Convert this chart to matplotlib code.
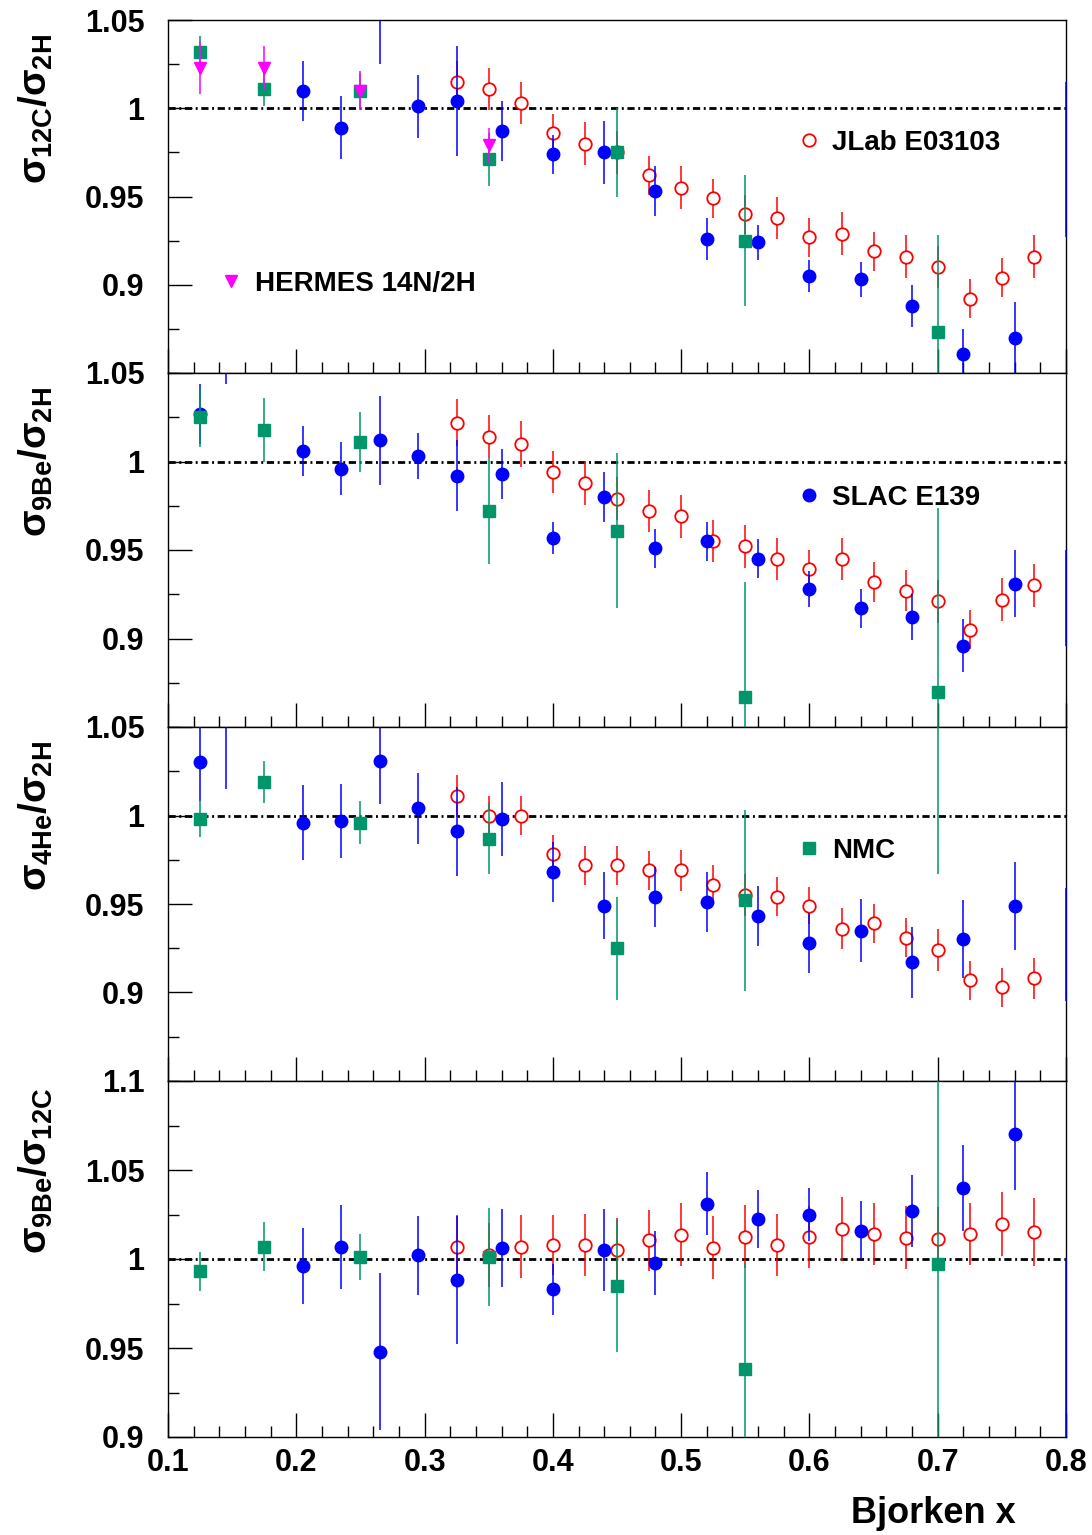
import matplotlib
matplotlib.use("Agg")
import matplotlib.pyplot as plt
import numpy as np
from matplotlib.lines import Line2D
from matplotlib.ticker import FixedLocator, MultipleLocator
from matplotlib.transforms import Bbox, TransformedBbox

plt.rcParams["font.family"] = ["Liberation Sans", "DejaVu Sans"]
plt.rcParams["font.weight"] = "bold"
plt.rcParams["mathtext.fontset"] = "custom"
plt.rcParams["mathtext.rm"] = "Liberation Sans"
plt.rcParams["mathtext.it"] = "Liberation Sans"
plt.rcParams["mathtext.bf"] = "Liberation Sans:bold"

# ---------------- data ----------------
nan = np.nan

jlab_x = [0.325, 0.35, 0.375, 0.40, 0.425, 0.45, 0.475, 0.50, 0.525, 0.55,
          0.575, 0.60, 0.625, 0.65, 0.675, 0.70, 0.725, 0.75, 0.775]
slac_x = [0.125, 0.145, 0.205, 0.235, 0.265, 0.295, 0.325, 0.36, 0.40, 0.44,
          0.48, 0.52, 0.56, 0.60, 0.64, 0.68, 0.72, 0.76, 0.80]
nmc_x = [0.125, 0.175, 0.25, 0.35, 0.45, 0.55, 0.70]
hermes_x = [0.125, 0.175, 0.25, 0.35]

# panel 1: C12 / D
jlab_c12 = [1.015, 1.011, 1.003, 0.986, 0.980, 0.975, 0.962, 0.955, 0.949, 0.940,
            0.938, 0.927, 0.929, 0.919, 0.916, 0.910, 0.892, 0.904, 0.916]
jlab_c12_err = [0.012, 0.012, 0.012, 0.011, 0.012, 0.012, 0.011, 0.012, 0.011, 0.011,
                0.012, 0.011, 0.012, 0.011, 0.012, 0.012, 0.011, 0.011, 0.012]
slac_c12 = [nan, nan, 1.010, 0.989, 1.062, 1.001, 1.004, 0.987, 0.974, 0.975,
            0.953, 0.926, 0.924, 0.905, 0.903, 0.888, 0.861, 0.870, 0.971]
slac_c12_err = [nan, nan, 0.017, 0.018, 0.037, 0.018, 0.031, 0.017, 0.011, 0.018,
                0.014, 0.012, 0.010, 0.009, 0.010, 0.012, 0.014, 0.020, 0.044]
nmc_c12 = [1.032, 1.011, 1.010, 0.971, 0.975, 0.925, 0.873]
nmc_c12_err = [0.009, 0.010, 0.010, 0.015, 0.025, 0.037, 0.055]
hermes_n14 = [1.023, 1.023, 1.010, 0.979]
hermes_n14_err = [0.015, 0.012, 0.011, 0.010]

# panel 2: Be9 / D
jlab_be9 = [1.022, 1.014, 1.010, 0.994, 0.988, 0.979, 0.972, 0.969, 0.955, 0.952,
            0.945, 0.939, 0.945, 0.932, 0.927, 0.921, 0.905, 0.922, 0.930]
jlab_be9_err = [0.0135, 0.012, 0.013, 0.012, 0.0125, 0.012, 0.012, 0.012, 0.012, 0.012,
                0.012, 0.011, 0.012, 0.0115, 0.0115, 0.012, 0.011, 0.012, 0.012]
slac_be9 = [1.027, 1.065, 1.006, 0.996, 1.012, 1.003, 0.992, 0.993, 0.957, 0.980,
            0.951, 0.955, 0.945, 0.928, 0.917, 0.912, 0.896, 0.931, 0.923]
slac_be9_err = [0.017, 0.021, 0.014, 0.015, 0.025, 0.013, 0.020, 0.014, 0.009, 0.014,
                0.011, 0.011, 0.011, 0.010, 0.011, 0.013, 0.015, 0.019, 0.027]
nmc_be9 = [1.025, 1.018, 1.011, 0.972, 0.961, 0.867, 0.870]
nmc_be9_err = [0.017, 0.018, 0.017, 0.030, 0.044, 0.065, 0.104]

# panel 3: He4 / D
jlab_he4 = [1.011, 1.000, 1.000, 0.978, 0.972, 0.972, 0.969, 0.969, 0.961, 0.955,
            0.954, 0.949, 0.936, 0.939, 0.931, 0.924, 0.907, 0.903, 0.908]
jlab_he4_err = [0.012, 0.011, 0.011, 0.011, 0.011, 0.011, 0.011, 0.0115, 0.011, 0.012,
                0.011, 0.0105, 0.0115, 0.011, 0.011, 0.012, 0.011, 0.011, 0.0115]
slac_he4 = [1.030, 1.058, 0.996, 0.997, 1.031, 1.004, 0.991, 0.998, 0.968, 0.949,
            0.954, 0.951, 0.943, 0.928, 0.935, 0.917, 0.930, 0.949, 0.927]
slac_he4_err = [0.022, 0.043, 0.021, 0.021, 0.0245, 0.020, 0.025, 0.021, 0.017, 0.019,
                0.017, 0.017, 0.017, 0.017, 0.018, 0.020, 0.022, 0.025, 0.032]
nmc_he4 = [0.998, 1.019, 0.996, 0.987, 0.925, 0.952, 1.070]
nmc_he4_err = [0.010, 0.012, 0.012, 0.020, 0.029, 0.051, 0.103]

# panel 4: Be9 / C12
jlab_be_c = [1.007, 1.002, 1.007, 1.008, 1.008, 1.005, 1.0105, 1.0137, 1.0064, 1.0125,
             1.008, 1.0125, 1.017, 1.014, 1.012, 1.011, 1.014, 1.0195, 1.015]
jlab_be_c_err = [0.0175, 0.018, 0.0175, 0.017, 0.0175, 0.018, 0.0173, 0.0178, 0.0175, 0.0178,
                 0.0173, 0.0173, 0.018, 0.0176, 0.0176, 0.018, 0.0176, 0.018, 0.019]
slac_be_c = [nan, nan, 0.996, 1.007, 0.948, 1.002, 0.988, 1.006, 0.983, 1.005,
             0.998, 1.031, 1.0225, 1.025, 1.016, 1.027, 1.040, 1.070, 0.945]
slac_be_c_err = [nan, nan, 0.0215, 0.0236, 0.044, 0.022, 0.036, 0.022, 0.0144, 0.023,
                 0.018, 0.0176, 0.0162, 0.015, 0.0166, 0.020, 0.024, 0.031, 0.055]
nmc_be_c = [0.993, 1.007, 1.001, 1.001, 0.985, 0.938, 0.997]
nmc_be_c_err = [0.011, 0.0138, 0.013, 0.0276, 0.037, 0.060, 0.110]

y_labels = [
    r"$\sigma_{\mathbf{12C}}\mathbf{/}\sigma_{\mathbf{2H}}$",
    r"$\sigma_{\mathbf{9Be}}\mathbf{/}\sigma_{\mathbf{2H}}$",
    r"$\sigma_{\mathbf{4He}}\mathbf{/}\sigma_{\mathbf{2H}}$",
    r"$\sigma_{\mathbf{9Be}}\mathbf{/}\sigma_{\mathbf{12C}}$",
]
y_limits = [(0.85, 1.05), (0.85, 1.05), (0.85, 1.05), (0.9, 1.1)]
y_ticks = [[0.9, 0.95, 1.0, 1.05]] * 3 + [[0.9, 0.95, 1.0, 1.05, 1.1]]
y_tick_labels = [["0.9", "0.95", "1", "1.05"]] * 3 + [["0.9", "0.95", "1", "1.05", "1.1"]]
x_ticks = [0.1, 0.2, 0.3, 0.4, 0.5, 0.6, 0.7, 0.8]
x_tick_labels = ["0.1", "0.2", "0.3", "0.4", "0.5", "0.6", "0.7", "0.8"]

panels = [
    (jlab_c12, jlab_c12_err, slac_c12, slac_c12_err, nmc_c12, nmc_c12_err),
    (jlab_be9, jlab_be9_err, slac_be9, slac_be9_err, nmc_be9, nmc_be9_err),
    (jlab_he4, jlab_he4_err, slac_he4, slac_he4_err, nmc_he4, nmc_he4_err),
    (jlab_be_c, jlab_be_c_err, slac_be_c, slac_be_c_err, nmc_be_c, nmc_be_c_err),
]

RED = "#ff0000"
BLUE = "#0000ff"
GREEN = "#00956a"
MAGENTA = "#ff00ff"

# ---------------- figure ----------------
fig = plt.figure(figsize=(10.92, 15.35), dpi=100)

W, H = 1092.0, 1535.0
left, right = 168 / W, 1066 / W
edges_px = [20, 373, 727, 1081, 1437]

axes = []
for i in range(4):
    bottom = 1 - edges_px[i + 1] / H
    height = (edges_px[i + 1] - edges_px[i]) / H
    ax = fig.add_axes([left, bottom, right - left, height])
    axes.append(ax)

eb_kw = dict(linestyle="none", elinewidth=1.1, capsize=0)

for i, ax in enumerate(axes):
    jl, jl_e, sl, sl_e, nm, nm_e = panels[i]

    ax.axhline(1.0, color="black", lw=2.0, dashes=(2.6, 1.3, 0.7, 1.3), zorder=1)

    ax.errorbar(jlab_x, jl, yerr=jl_e, marker="o", ms=9, mfc="white", mec=RED,
                mew=1.3, color=RED, zorder=3, **eb_kw)
    # the last SLAC point sits on the frame: only its error bar shows
    slac_eb = ax.errorbar(slac_x, sl, yerr=sl_e, marker="o", ms=9, mfc=BLUE, mec=BLUE,
                          color=BLUE, zorder=4, markevery=slice(0, len(slac_x) - 1), **eb_kw)
    # let the bar on the right frame stay visible over the spine
    wide_clip = TransformedBbox(Bbox([[0.0, 0.0], [1.004, 1.0]]), ax.transAxes)
    for coll in slac_eb[2]:
        coll.set_clip_box(wide_clip)
        coll.set_zorder(4)
    ax.errorbar(nmc_x, nm, yerr=nm_e, marker="s", ms=8, mfc=GREEN, mec=GREEN,
                color=GREEN, zorder=5, **eb_kw)
    if i == 0:
        ax.errorbar(hermes_x, hermes_n14, yerr=hermes_n14_err, marker="v", ms=9,
                    mfc=MAGENTA, mec=MAGENTA, color=MAGENTA, zorder=6, **eb_kw)

    ax.set_xlim(0.1, 0.8)
    ax.set_ylim(*y_limits[i])

    ax.xaxis.set_major_locator(FixedLocator(x_ticks))
    ax.xaxis.set_minor_locator(MultipleLocator(0.02))
    ax.yaxis.set_major_locator(FixedLocator(y_ticks[i]))
    ax.yaxis.set_minor_locator(MultipleLocator(0.025))
    ax.tick_params(axis="x", which="both", direction="in", top=False, bottom=True)
    ax.tick_params(axis="y", which="both", direction="in", left=True, right=False)
    ax.tick_params(which="major", length=17, width=1.0)
    ax.tick_params(which="minor", length=8, width=1.0)
    ax.tick_params(axis="y", labelsize=22, pad=17)
    ax.set_yticklabels(y_tick_labels[i], fontweight="bold")

    if i < 3:
        ax.set_xticklabels([])
    else:
        ax.set_xticklabels(x_tick_labels, fontweight="bold")
        ax.tick_params(axis="x", labelsize=22, pad=8)

    for sp in ax.spines.values():
        sp.set_linewidth(1.0)
        sp.set_zorder(2)

    ax.set_ylabel(y_labels[i], fontsize=28)
    ax.yaxis.set_label_coords(-0.126, 0.748)

axes[3].set_xlabel("Bjorken x", fontsize=26, fontweight="bold")
axes[3].xaxis.set_label_coords(0.944, -0.165)
axes[3].xaxis.label.set_horizontalalignment("right")

# ---------------- legends ----------------
leg_kw = dict(frameon=False, handlelength=1.0, handletextpad=0.35, borderpad=0,
              borderaxespad=0, loc="center left",
              prop={"size": 20, "weight": "bold"})


def add_legend(ax, handle, label, x_frac, y_frac):
    leg = ax.legend(handles=[handle], labels=[label], bbox_to_anchor=(x_frac, y_frac), **leg_kw)
    leg.set_zorder(10)


h_jlab = Line2D([], [], ls="none", marker="o", ms=9, mfc="white", mec=RED, mew=1.3)
h_slac = Line2D([], [], ls="none", marker="o", ms=9, mfc=BLUE, mec=BLUE)
h_nmc = Line2D([], [], ls="none", marker="s", ms=8, mfc=GREEN, mec=GREEN)
h_hermes = Line2D([], [], ls="none", marker="v", ms=9, mfc=MAGENTA, mec=MAGENTA)

add_legend(axes[0], h_jlab, "JLab E03103", 0.698, 0.652)
axes[0].add_artist(axes[0].get_legend())
add_legend(axes[0], h_hermes, "HERMES 14N/2H", 0.055, 0.252)
add_legend(axes[1], h_slac, "SLAC E139", 0.698, 0.647)
add_legend(axes[2], h_nmc, "NMC", 0.698, 0.65)

fig.savefig("out.png", dpi=100)
